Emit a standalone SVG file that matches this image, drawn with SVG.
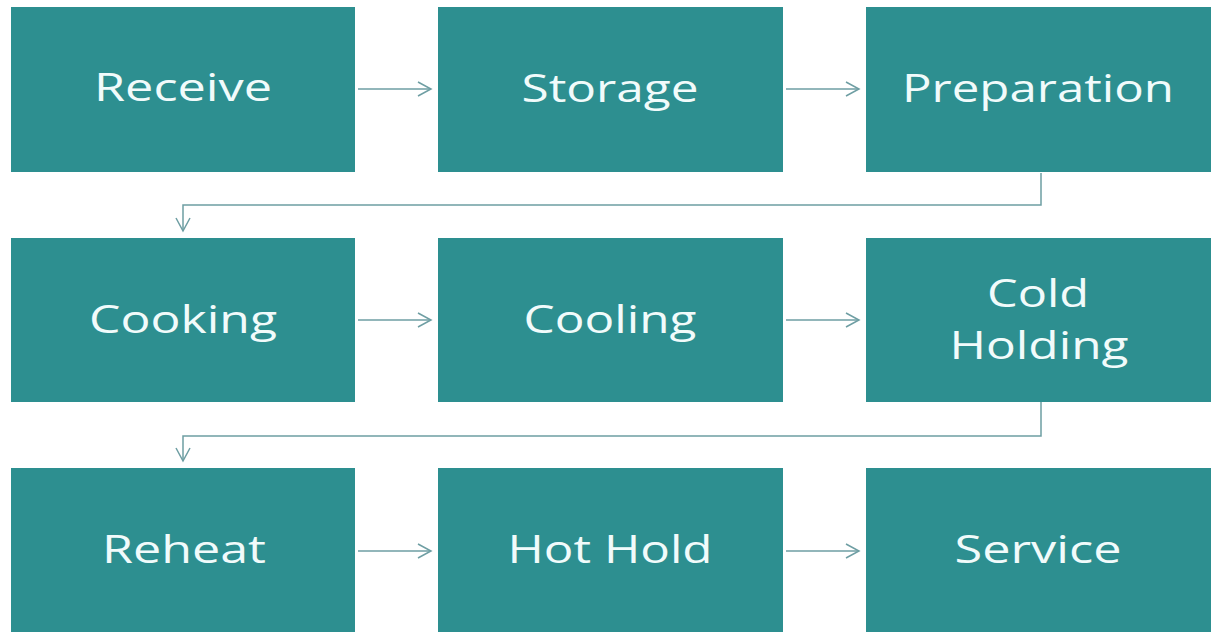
<svg xmlns="http://www.w3.org/2000/svg" width="1211" height="632" viewBox="0 0 1211 632">
<defs>
<style>
.box{fill:#2d8f90;}
.lbl{font-family:"Open Sans","Noto Sans","DejaVu Sans",sans-serif;font-size:39px;fill:#f1fbfb;text-anchor:middle;}
.con{fill:none;stroke:#6e9ea3;stroke-width:1.5;}
</style>
<marker id="arr" markerWidth="16" markerHeight="16" viewBox="-14 -8 16 16" refX="0" refY="0" orient="auto" markerUnits="userSpaceOnUse">
<path d="M-13,-7 L0,0 L-13,7" fill="none" stroke="#6e9ea3" stroke-width="1.5"/>
</marker>
</defs>
<rect width="1211" height="632" fill="#ffffff"/>
<g id="connectors">
<line class="con" x1="358" y1="89" x2="431" y2="89" marker-end="url(#arr)"/>
<line class="con" x1="786" y1="89" x2="859" y2="89" marker-end="url(#arr)"/>
<polyline class="con" points="1041,173 1041,205 183,205 183,231" marker-end="url(#arr)"/>
<line class="con" x1="358" y1="320" x2="431" y2="320" marker-end="url(#arr)"/>
<line class="con" x1="786" y1="320" x2="859" y2="320" marker-end="url(#arr)"/>
<polyline class="con" points="1041,402 1041,436 183,436 183,461" marker-end="url(#arr)"/>
<line class="con" x1="358" y1="551" x2="431" y2="551" marker-end="url(#arr)"/>
<line class="con" x1="786" y1="551" x2="859" y2="551" marker-end="url(#arr)"/>
</g>
<g id="receive"><rect class="box" x="11" y="7" width="344" height="165"/><text class="lbl" x="183" y="101" textLength="178" lengthAdjust="spacingAndGlyphs">Receive</text></g>
<g id="storage"><rect class="box" x="438" y="7" width="345" height="165"/><text class="lbl" x="610" y="102" textLength="177" lengthAdjust="spacingAndGlyphs">Storage</text></g>
<g id="preparation"><rect class="box" x="866" y="7" width="345" height="165"/><text class="lbl" x="1038" y="102" textLength="272" lengthAdjust="spacingAndGlyphs">Preparation</text></g>
<g id="cooking"><rect class="box" x="11" y="238" width="344" height="164"/><text class="lbl" x="183" y="333" textLength="188" lengthAdjust="spacingAndGlyphs">Cooking</text></g>
<g id="cooling"><rect class="box" x="438" y="238" width="345" height="164"/><text class="lbl" x="610" y="333" textLength="173" lengthAdjust="spacingAndGlyphs">Cooling</text></g>
<g id="cold-holding"><rect class="box" x="866" y="238" width="345" height="164"/><text class="lbl" x="1038" y="307" textLength="102" lengthAdjust="spacingAndGlyphs">Cold</text><text class="lbl" x="1039" y="359" textLength="179" lengthAdjust="spacingAndGlyphs">Holding</text></g>
<g id="reheat"><rect class="box" x="11" y="468" width="344" height="164"/><text class="lbl" x="184" y="563" textLength="164" lengthAdjust="spacingAndGlyphs">Reheat</text></g>
<g id="hot-hold"><rect class="box" x="438" y="468" width="345" height="164"/><text class="lbl" x="610" y="563" textLength="205" lengthAdjust="spacingAndGlyphs">Hot Hold</text></g>
<g id="service"><rect class="box" x="866" y="468" width="345" height="164"/><text class="lbl" x="1038" y="563" textLength="167" lengthAdjust="spacingAndGlyphs">Service</text></g>
</svg>
